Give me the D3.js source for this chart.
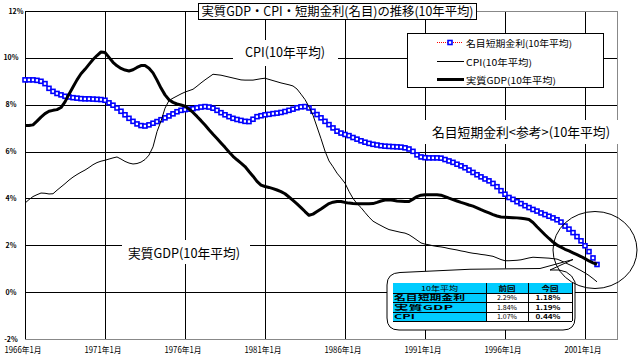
<!DOCTYPE html>
<html><head><meta charset="utf-8">
<script src="https://cdn.jsdelivr.net/npm/d3@7"></script>
<style>
body{margin:0;background:#fff}
svg{display:block}
text{font-family:"Noto Sans CJK JP","Noto Sans",sans-serif;fill:#000}
</style>
</head><body>
<svg id="c" width="640" height="356"></svg>
<script>
// ---------------- DATA ----------------
const startYear = 1966;            // first quarter 1966 Q1, quarterly to 2001 Q4
const seriesNames = ["名目短期金利(10年平均)", "CPI(10年平均)", "実質GDP(10年平均)"];
const rateValues = [
 9.06,9.06,9.06,9.04, 9.00,8.90,8.70,8.57, 8.48,8.42,8.36,8.33, 8.30,8.28,8.26,8.25,
 8.25,8.24,8.23,8.22, 8.19,8.08,7.98,7.86, 7.72,7.57,7.42,7.29, 7.18,7.11,7.09,7.14,
 7.21,7.28,7.36,7.44, 7.52,7.61,7.70,7.76, 7.79,7.81,7.83,7.87, 7.90,7.92,7.90,7.85,
 7.76,7.66,7.57,7.49, 7.42,7.37,7.33,7.29, 7.28,7.38,7.49,7.53, 7.57,7.59,7.62,7.64,
 7.67,7.71,7.76,7.81, 7.87,7.91,7.92,7.86, 7.72,7.58,7.44,7.29, 7.15,7.01,6.87,6.79,
 6.73,6.68,6.60,6.53, 6.46,6.40,6.35,6.31, 6.28,6.25,6.23,6.22, 6.21,6.20,6.19,6.16,
 6.11,6.01,5.86,5.77, 5.74,5.73,5.73,5.73, 5.72,5.66,5.60,5.54, 5.46,5.39,5.31,5.21,
 5.11,5.01,4.92,4.83, 4.75,4.64,4.50,4.33, 4.18,4.04,3.96,3.86, 3.78,3.69,3.61,3.53,
 3.46,3.38,3.31,3.24, 3.17,3.09,2.99,2.82, 2.69,2.54,2.37,2.19, 1.98,1.73,1.46,1.18
];
const cpiValues = [
 3.80,3.95,4.08,4.16, 4.23,4.22,4.19,4.20, 4.35,4.49,4.63,4.78, 4.91,5.02,5.12,5.21,
 5.32,5.44,5.53,5.59, 5.63,5.68,5.73,5.77, 5.68,5.58,5.51,5.47, 5.49,5.55,5.66,5.85,
 6.20,6.85,7.30,7.85, 8.18,8.28,8.37,8.46, 8.54,8.60,8.66,8.79, 8.93,9.06,9.18,9.30,
 9.28,9.26,9.22,9.18, 9.14,9.10,9.06,9.05, 9.05,9.05,9.08,9.11, 9.13,9.08,9.03,8.98,
 8.93,8.89,8.85,8.80, 8.67,8.45,8.22,7.91, 7.55,7.05,6.55,6.02, 5.60,5.35,5.08,4.87,
 4.65,4.30,4.00,3.78, 3.61,3.40,3.20,3.03, 2.93,2.84,2.75,2.67, 2.63,2.59,2.55,2.52,
 2.45,2.34,2.22,2.10, 2.05,2.02,1.98,1.95, 1.93,1.90,1.86,1.83, 1.80,1.76,1.73,1.69,
 1.66,1.64,1.61,1.59, 1.56,1.53,1.46,1.39, 1.34,1.34,1.35,1.36, 1.38,1.42,1.46,1.49,
 1.48,1.47,1.46,1.45, 1.43,1.41,1.34,1.26, 1.18,1.10,1.01,0.92, 0.82,0.71,0.58,0.44
];
const gdpValues = [
 7.11,7.11,7.14,7.30, 7.47,7.62,7.72,7.76, 7.79,7.88,8.12,8.45, 8.76,9.06,9.32,9.51,
 9.72,9.93,10.10,10.25, 10.23,10.02,9.81,9.66, 9.55,9.48,9.44,9.49, 9.59,9.67,9.67,9.56,
 9.36,9.05,8.71,8.42, 8.21,8.10,8.03,7.99, 7.94,7.81,7.67,7.50, 7.32,7.13,6.93,6.74,
 6.56,6.37,6.18,5.98, 5.80,5.65,5.51,5.36, 5.15,4.95,4.73,4.57, 4.51,4.47,4.42,4.36,
 4.29,4.20,4.06,3.92, 3.77,3.61,3.44,3.28, 3.33,3.44,3.55,3.67, 3.78,3.84,3.87,3.87,
 3.83,3.80,3.78,3.77, 3.77,3.77,3.77,3.78, 3.83,3.89,3.93,3.94, 3.92,3.89,3.88,3.87,
 3.87,3.97,4.08,4.14, 4.16,4.16,4.16,4.16, 4.14,4.08,4.01,3.95, 3.89,3.83,3.78,3.72,
 3.67,3.60,3.52,3.45, 3.38,3.31,3.25,3.21, 3.20,3.19,3.18,3.17, 3.15,3.13,3.10,2.97,
 2.79,2.62,2.45,2.29, 2.14,2.01,1.92,1.83, 1.76,1.68,1.60,1.52, 1.43,1.33,1.25,1.19
];
const yTickValues = [-2, 0, 2, 4, 6, 8, 10, 12];
const xTickYears = [1966, 1971, 1976, 1981, 1986, 1991, 1996, 2001];
const xTickLabels = ["1966年1月","1971年1月","1976年1月","1981年1月","1986年1月","1991年1月","1996年1月","2001年1月"];
const titleText = "実質GDP・CPI・短期金利(名目)の推移(10年平均)";
const annotations = ["CPI(10年平均)", "名目短期金利<参考>(10年平均)", "実質GDP(10年平均)"];
const tableHeader = ["10年平均", "前回", "今回"];
const tableRowLabels = ["名目短期金利", "実質GDP", "CPI"];
const tablePrev = ["2.29%", "1.84%", "1.07%"];
const tableCurr = ["1.18%", "1.19%", "0.44%"];

// ---------------- CHART ----------------
const svg = d3.select("#c");
const L = 25, R = 617, T = 11, B = 339;
const x = d3.scaleLinear().domain([1966, 2003]).range([L, R]);
const y = d3.scaleLinear().domain([-2, 12]).range([B, T]);
const toPts = vals => vals.map((v, i) => ({t: startYear + i / 4, v}));
const rate = toPts(rateValues), cpi = toPts(cpiValues), gdp = toPts(gdpValues);

const grid = svg.append("g").attr("shape-rendering", "crispEdges");
yTickValues.forEach(v => {
  if (v === -2) return;
  grid.append("line").attr("x1", L).attr("x2", v === 12 ? 477 : R)
    .attr("y1", Math.round(y(v)) + 0.5).attr("y2", Math.round(y(v)) + 0.5)
    .attr("stroke", "#000").attr("stroke-width", 1);
});
xTickYears.forEach(yr => {
  grid.append("line").attr("x1", Math.round(x(yr)) + 0.5).attr("x2", Math.round(x(yr)) + 0.5)
    .attr("y1", T).attr("y2", B).attr("stroke", "#000");
});
grid.append("path").attr("d", `M477,${T+0.5}H${R+0.5}V${B+0.5}H${L}`)
  .attr("fill", "none").attr("stroke", "#888");

svg.append("g").selectAll("text").data(yTickValues).join("text")
  .attr("x", d => d === 12 ? 16 : 11).attr("y", d => y(d) + 2.5)
  .attr("text-anchor", "middle").attr("font-size", 7).attr("font-weight", "bold")
  .text(d => d + "%");
svg.append("g").selectAll("text").data(xTickYears).join("text")
  .attr("x", d => x(d) - 2).attr("y", 352.5).attr("text-anchor", "middle")
  .attr("font-size", 8.5).attr("textLength", 37).attr("lengthAdjust", "spacingAndGlyphs")
  .text((d, i) => xTickLabels[i]);

const annBoxes = [
  {x0: 233, y0: 40, x1: 338, y1: 66, tx: 285, ty: 56.5, w: 80},
  {x0: 420, y0: 120, x1: 622, y1: 144, tx: 521, ty: 137, w: 178},
  {x0: 122, y0: 240, x1: 250, y1: 264, tx: 184, ty: 258, w: 112}
];
annBoxes.forEach((b, i) => {
  svg.append("rect").attr("x", b.x0).attr("y", b.y0).attr("width", b.x1 - b.x0)
    .attr("height", b.y1 - b.y0).attr("fill", "#fff");
  svg.append("text").attr("x", b.tx).attr("y", b.ty).attr("text-anchor", "middle")
    .attr("font-size", 13).attr("textLength", b.w).attr("lengthAdjust", "spacingAndGlyphs")
    .text(annotations[i]);
});

const line = d3.line().x(d => x(d.t)).y(d => y(d.v));
svg.append("path").datum(rate).attr("d", line).attr("fill", "none")
  .attr("stroke", "#ff0000").attr("stroke-width", 1).attr("stroke-dasharray", "1,1");
svg.append("g").selectAll("rect").data(rate).join("rect")
  .attr("x", d => x(d.t) - 2).attr("y", d => y(d.v) - 2).attr("width", 4).attr("height", 4)
  .attr("fill", "#fff").attr("stroke", "#0000ff").attr("stroke-width", 1.6);
svg.append("path").datum(cpi).attr("d", line).attr("fill", "none")
  .attr("stroke", "#000").attr("stroke-width", 1);
svg.append("path").datum(gdp).attr("d", line).attr("fill", "none")
  .attr("stroke", "#000").attr("stroke-width", 3).attr("stroke-linejoin", "round");

svg.append("rect").attr("x", 198.5).attr("y", 3.5).attr("width", 278).attr("height", 16)
  .attr("fill", "#fff").attr("stroke", "#000");
svg.append("text").attr("x", 337.5).attr("y", 16.3).attr("text-anchor", "middle")
  .attr("font-size", 12.5).attr("textLength", 272).attr("lengthAdjust", "spacingAndGlyphs")
  .text(titleText);

const lg = svg.append("g");
lg.append("rect").attr("x", 407.5).attr("y", 33.5).attr("width", 196).attr("height", 54)
  .attr("fill", "#fff").attr("stroke", "#000");
const legY = [42.5, 61.5, 79.5];
const legW = [106, 66, 90];
lg.append("line").attr("x1", 437).attr("x2", 463).attr("y1", legY[0]).attr("y2", legY[0])
  .attr("stroke", "#ff0000").attr("stroke-dasharray", "1,1");
lg.append("rect").attr("x", 448).attr("y", legY[0] - 2).attr("width", 4).attr("height", 4)
  .attr("fill", "#fff").attr("stroke", "#0000ff").attr("stroke-width", 1.6);
lg.append("line").attr("x1", 437).attr("x2", 464).attr("y1", legY[1]).attr("y2", legY[1])
  .attr("stroke", "#000").attr("stroke-width", 1);
lg.append("line").attr("x1", 437).attr("x2", 464).attr("y1", legY[2]).attr("y2", legY[2])
  .attr("stroke", "#000").attr("stroke-width", 3);
seriesNames.forEach((n, i) => {
  lg.append("text").attr("x", 466).attr("y", legY[i] + 4).attr("font-size", 9)
    .attr("textLength", legW[i]).attr("lengthAdjust", "spacingAndGlyphs").text(n);
});

svg.append("path")
  .attr("d", "M400,272.5 Q470,268 540,268.5 L573,259.5 L550,270 Q570,268 575,282 L575,318 Q575,330 563,330 L399,330 Q387,330 387,318 L387,285 Q387,273 400,272.5 Z")
  .attr("fill", "#fff").attr("stroke", "#000").attr("stroke-width", 1);

const tx0 = 393, tx1 = 486, tx2 = 528, tx3 = 572;
const rowY = [283, 293, 302.5, 312, 321];
const tb = svg.append("g");
tb.append("rect").attr("x", tx0).attr("y", rowY[0]).attr("width", tx3 - tx0).attr("height", rowY[1] - rowY[0]).attr("fill", "#00ccff");
tb.append("rect").attr("x", tx0).attr("y", rowY[1]).attr("width", tx1 - tx0).attr("height", rowY[4] - rowY[1]).attr("fill", "#00ccff");
const tg = tb.append("g").attr("shape-rendering", "crispEdges");
rowY.forEach((ry, i) => {
  if (i === 0) return;
  tg.append("line").attr("x1", tx0).attr("x2", tx3).attr("y1", ry).attr("y2", ry).attr("stroke", "#000");
});
[tx1, tx2, tx3].forEach(cx => {
  tg.append("line").attr("x1", cx).attr("x2", cx).attr("y1", rowY[0]).attr("y2", rowY[4]).attr("stroke", "#000");
});
const colC = [(tx0 + tx1) / 2, (tx1 + tx2) / 2, (tx2 + tx3) / 2];
const hdrW = [37, 17, 17];
tableHeader.forEach((h, i) => {
  tb.append("text").attr("x", colC[i]).attr("y", rowY[1] - 2.5).attr("text-anchor", "middle")
    .attr("font-size", 6.5).attr("font-weight", i ? "bold" : "normal")
    .attr("textLength", hdrW[i]).attr("lengthAdjust", "spacingAndGlyphs").text(h);
});
const labW = [71, 59, 21];
tableRowLabels.forEach((lab, i) => {
  const by = rowY[i + 2] - 2.5;
  tb.append("text").attr("x", tx0 + 1).attr("y", by).attr("font-size", 6.5).attr("font-weight", "bold")
    .attr("textLength", labW[i]).attr("lengthAdjust", "spacingAndGlyphs").text(lab);
  tb.append("text").attr("x", colC[1]).attr("y", by).attr("text-anchor", "middle")
    .attr("font-size", 6.5).attr("textLength", 20).attr("lengthAdjust", "spacingAndGlyphs").text(tablePrev[i]);
  tb.append("text").attr("x", colC[2] - 2).attr("y", by).attr("text-anchor", "middle")
    .attr("font-size", 6.5).attr("font-weight", "bold")
    .attr("textLength", 25).attr("lengthAdjust", "spacingAndGlyphs").text(tableCurr[i]);
});

svg.append("ellipse").attr("cx", 595).attr("cy", 250).attr("rx", 42).attr("ry", 38.5)
  .attr("fill", "none").attr("stroke", "#000").attr("stroke-width", 1);
</script>
</body></html>
